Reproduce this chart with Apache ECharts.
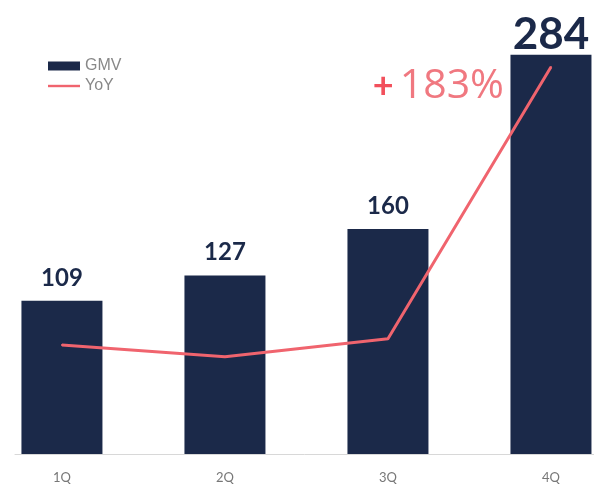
<html>
<head>
<meta charset="UTF-8">
<script src="https://cdn.jsdelivr.net/npm/echarts@6/dist/echarts.min.js"></script>
<style>
  body{margin:0;background:#fff;}
  #main{width:594px;height:492px;}
</style>
</head>
<body>
<div id="main"></div>
<script>
// data
const quarters = ['1Q', '2Q', '3Q', '4Q'];
const gmv = [109, 127, 160, 284];
const yoy = [51.5, 46, 54.5, 183];

const navy = '#1b2949';
const pink = '#f0646e';

let chart = echarts.init(document.getElementById('main'));

let option = {
    animation: false,
    legend: {
        left: 43, top: 53,
        orient: 'vertical',
        itemGap: 4,
        itemWidth: 32, itemHeight: 9,
        textStyle: {color: '#888', fontFamily: 'Liberation Sans', fontSize: 16, lineHeight: 16, padding: [0, 0, 0, 0]},
        data: [
            {name: 'GMV', icon: 'rect'},
            {name: 'YoY', icon: 'path://M0,3.3 L32,3.3 L32,5.7 L0,5.7 Z'}
        ]
    },
    grid: {left: 15, right: 0, top: 0, bottom: 38},
    xAxis: {
        type: 'value',
        min: -0.288,
        max: 3.264,
        splitLine: {show: false},
        axisTick: {show: false},
        axisLine: {show: true, onZero: false, lineStyle: {color: '#d8d8d8', width: 1}},
        axisLabel: {
            customValues: [0, 1, 2, 3],
            formatter: v => quarters[Math.round(v)],
            color: '#777', fontFamily: 'Lato', fontSize: 13, margin: 17
        }
    },
    yAxis: [
        {type: 'value', min: 0, max: 323, show: false},
        {type: 'value', min: 0, max: 214.7, show: false}
    ],
    series: [
        {
            name: 'GMV',
            type: 'bar',
            data: gmv.map((v, i) => i === 3 ? {
                value: [i, v],
                label: {fontSize: 44, distance: -2}
            } : [i, v]),
            barWidth: 81,
            itemStyle: {color: navy},
            label: {
                show: true,
                position: 'top',
                distance: 11,
                formatter: p => p.value[1],
                color: navy,
                fontFamily: 'Lato',
                fontWeight: 'bold',
                fontSize: 24
            },
            z: 2
        },
        {
            name: 'YoY',
            type: 'line',
            yAxisIndex: 1,
            data: yoy.map((v, i) => i === 3 ? {
                value: [i, v],
                label: {
                    show: true,
                    position: 'left',
                    distance: 46,
                    offset: [0, 19],
                    formatter: '{p|+}{n|183%}',
                    rich: {
                        p: {color: '#f2505c', fontFamily: 'Lato', fontWeight: 'bold', fontSize: 36, padding: [0, 6, 0, 0]},
                        n: {color: '#f07880', fontFamily: 'Open Sans', fontSize: 41}
                    }
                }
            } : [i, v]),
            symbol: 'circle',
            symbolSize: 2,
            showSymbol: true,
            lineStyle: {color: pink, width: 3},
            itemStyle: {color: pink},
            z: 5
        }
    ]
};

chart.setOption(option);
</script>
</body>
</html>
